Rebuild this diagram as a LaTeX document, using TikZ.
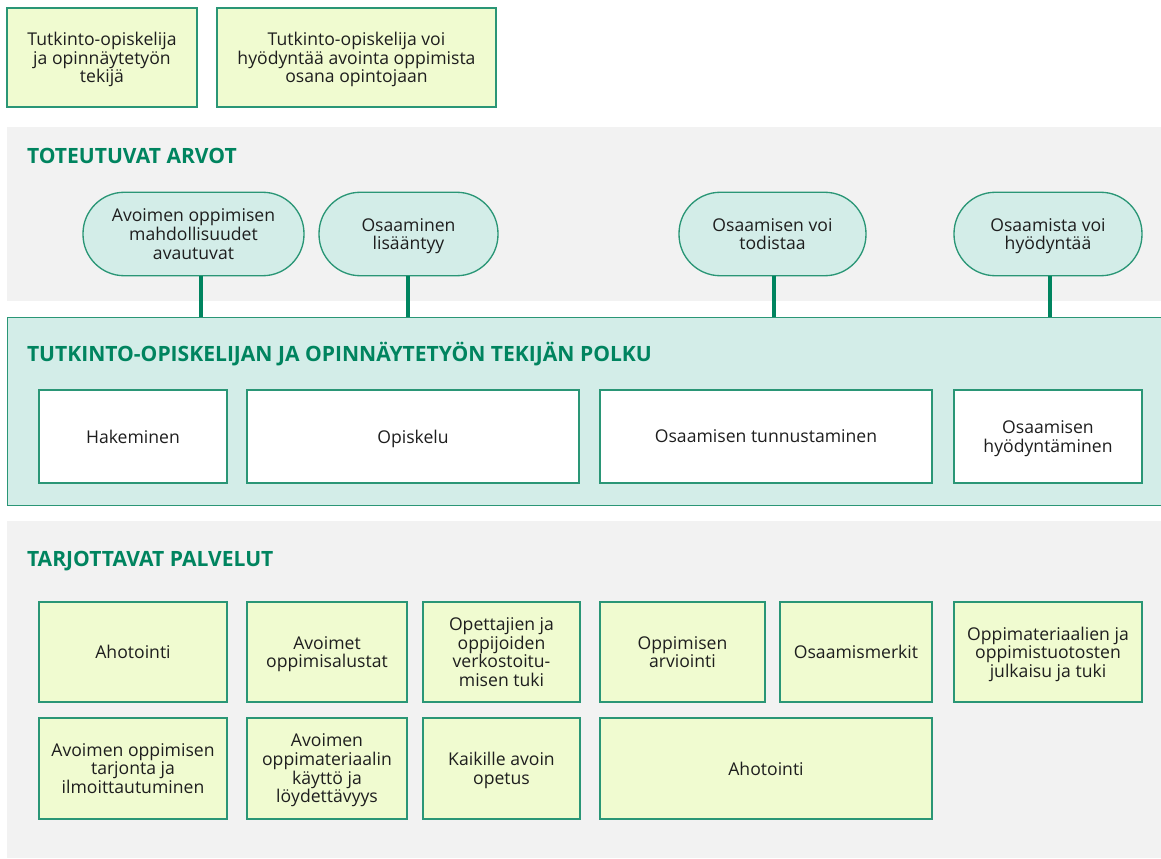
\documentclass[tikz,border=0pt]{standalone}
\usepackage{fontspec}
\setmainfont{Open Sans}
\definecolor{dkgreen}{HTML}{00845F}
\definecolor{bordgreen}{HTML}{2A9676}
\definecolor{limefill}{HTML}{F0FBD0}
\definecolor{tealfill}{HTML}{D3EDE8}
\definecolor{bandgray}{HTML}{F2F2F2}
\definecolor{txt}{HTML}{1E1E1E}
\begin{document}
\begin{tikzpicture}[x=0.75pt,y=-0.75pt,
  every node/.style={inner sep=0pt,outer sep=0pt},
  body/.style={font=\fontsize{13.2}{14}\selectfont, text=txt, align=center, text depth=0pt},
  limebox/.style={body, draw=bordgreen, line width=1pt, fill=limefill, rectangle},
  whitebox/.style={body, draw=bordgreen, line width=1pt, fill=white, rectangle},
  pill/.style={body, draw=bordgreen, line width=1pt, fill=tealfill, rectangle, rounded corners=31pt, minimum height=62.6pt},
  band/.style={fill=bandgray, draw=none, rectangle},
  panel/.style={fill=tealfill, draw=bordgreen, line width=1pt, rectangle},
  sectitle/.style={font=\fontsize{15.8}{18}\bfseries\selectfont, text=dkgreen, anchor=base west},
  link/.style={draw=dkgreen, line width=2.7pt}
]
\useasboundingbox (0,0) rectangle (1161,859);
\fill[white] (0,0) rectangle (1161,859);

% top boxes
\node[limebox, minimum width=142.5pt, minimum height=74.25pt] (top1) at (102,57.5) {Tutkinto-opiskelija\\ja opinnäytetyön\\tekijä};
\node[limebox, minimum width=209.25pt, minimum height=74.25pt] (top2) at (356.5,57.5) {Tutkinto-opiskelija voi\\hyödyntää avointa oppimista\\osana opintojaan};

% band 1
\node[band, minimum width=866pt, minimum height=130.5pt] (band1) at (584.5,214.5) {};
\node[sectitle] (t1) at (27,164) {TOTEUTUVAT ARVOT};

\node[pill, minimum width=165.75pt] (p1) at (193.5,234) {Avoimen oppimisen\\mahdollisuudet\\avautuvat};
\node[pill, minimum width=134.25pt] (p2) at (408.5,234) {Osaaminen\\lisääntyy};
\node[pill, minimum width=140.25pt] (p3) at (772.5,234) {Osaamisen voi\\todistaa};
\node[pill, minimum width=141pt] (p4) at (1048,234) {Osaamista voi\\hyödyntää};

% panel
\node[panel, minimum width=866pt, minimum height=141pt] (panel) at (584.5,411.5) {};
\node[sectitle] (t2) at (27,362) {TUTKINTO-OPISKELIJAN JA OPINNÄYTETYÖN TEKIJÄN POLKU};

\coordinate (c1) at (201,0);
\coordinate (c2) at (408,0);
\coordinate (c3) at (774,0);
\coordinate (c4) at (1050,0);
\draw[link] (p1.south -| c1) -- (panel.north -| c1);
\draw[link] (p2.south -| c2) -- (panel.north -| c2);
\draw[link] (p3.south -| c3) -- (panel.north -| c3);
\draw[link] (p4.south -| c4) -- (panel.north -| c4);

\node[whitebox, minimum width=141pt, minimum height=69.75pt] (w1) at (133,436.5) {Hakeminen};
\node[whitebox, minimum width=249pt, minimum height=69.75pt] (w2) at (413,436.5) {Opiskelu};
\node[whitebox, minimum width=249pt, minimum height=69.75pt] (w3) at (766,436.5) {Osaamisen tunnustaminen};
\node[whitebox, minimum width=141pt, minimum height=69.75pt] (w4) at (1048,436.5) {Osaamisen\\hyödyntäminen};

% band 2
\node[band, minimum width=866pt, minimum height=252.75pt] (band2) at (584.5,689.5) {};
\node[sectitle] (t3) at (27,566) {TARJOTTAVAT PALVELUT};

\node[limebox, minimum width=141pt, minimum height=75pt] (s1) at (133,652) {Ahotointi};
\node[limebox, minimum width=120pt, minimum height=75pt] (s2) at (327,652) {Avoimet\\oppimisalustat};
\node[limebox, minimum width=117.75pt, minimum height=75pt] (s3) at (501.5,652) {Opettajien ja\\oppijoiden\\verkostoitu-\\misen tuki};
\node[limebox, minimum width=123.75pt, minimum height=75pt] (s4) at (682.5,652) {Oppimisen\\arviointi};
\node[limebox, minimum width=114pt, minimum height=75pt] (s5) at (856,652) {Osaamismerkit};
\node[limebox, minimum width=141pt, minimum height=75pt] (s6) at (1048,652) {Oppimateriaalien ja\\oppimistuotosten\\julkaisu ja tuki};

\node[limebox, minimum width=141pt, minimum height=75.75pt] (r1) at (133,768.5) {Avoimen oppimisen\\tarjonta ja\\ilmoittautuminen};
\node[limebox, minimum width=120pt, minimum height=75.75pt] (r2) at (327,768.5) {Avoimen\\oppimateriaalin\\käyttö ja\\löydettävyys};
\node[limebox, minimum width=117.75pt, minimum height=75.75pt] (r3) at (501.5,768.5) {Kaikille avoin\\opetus};
\node[limebox, minimum width=249pt, minimum height=75.75pt] (r4) at (766,768.5) {Ahotointi};
\end{tikzpicture}
\end{document}
